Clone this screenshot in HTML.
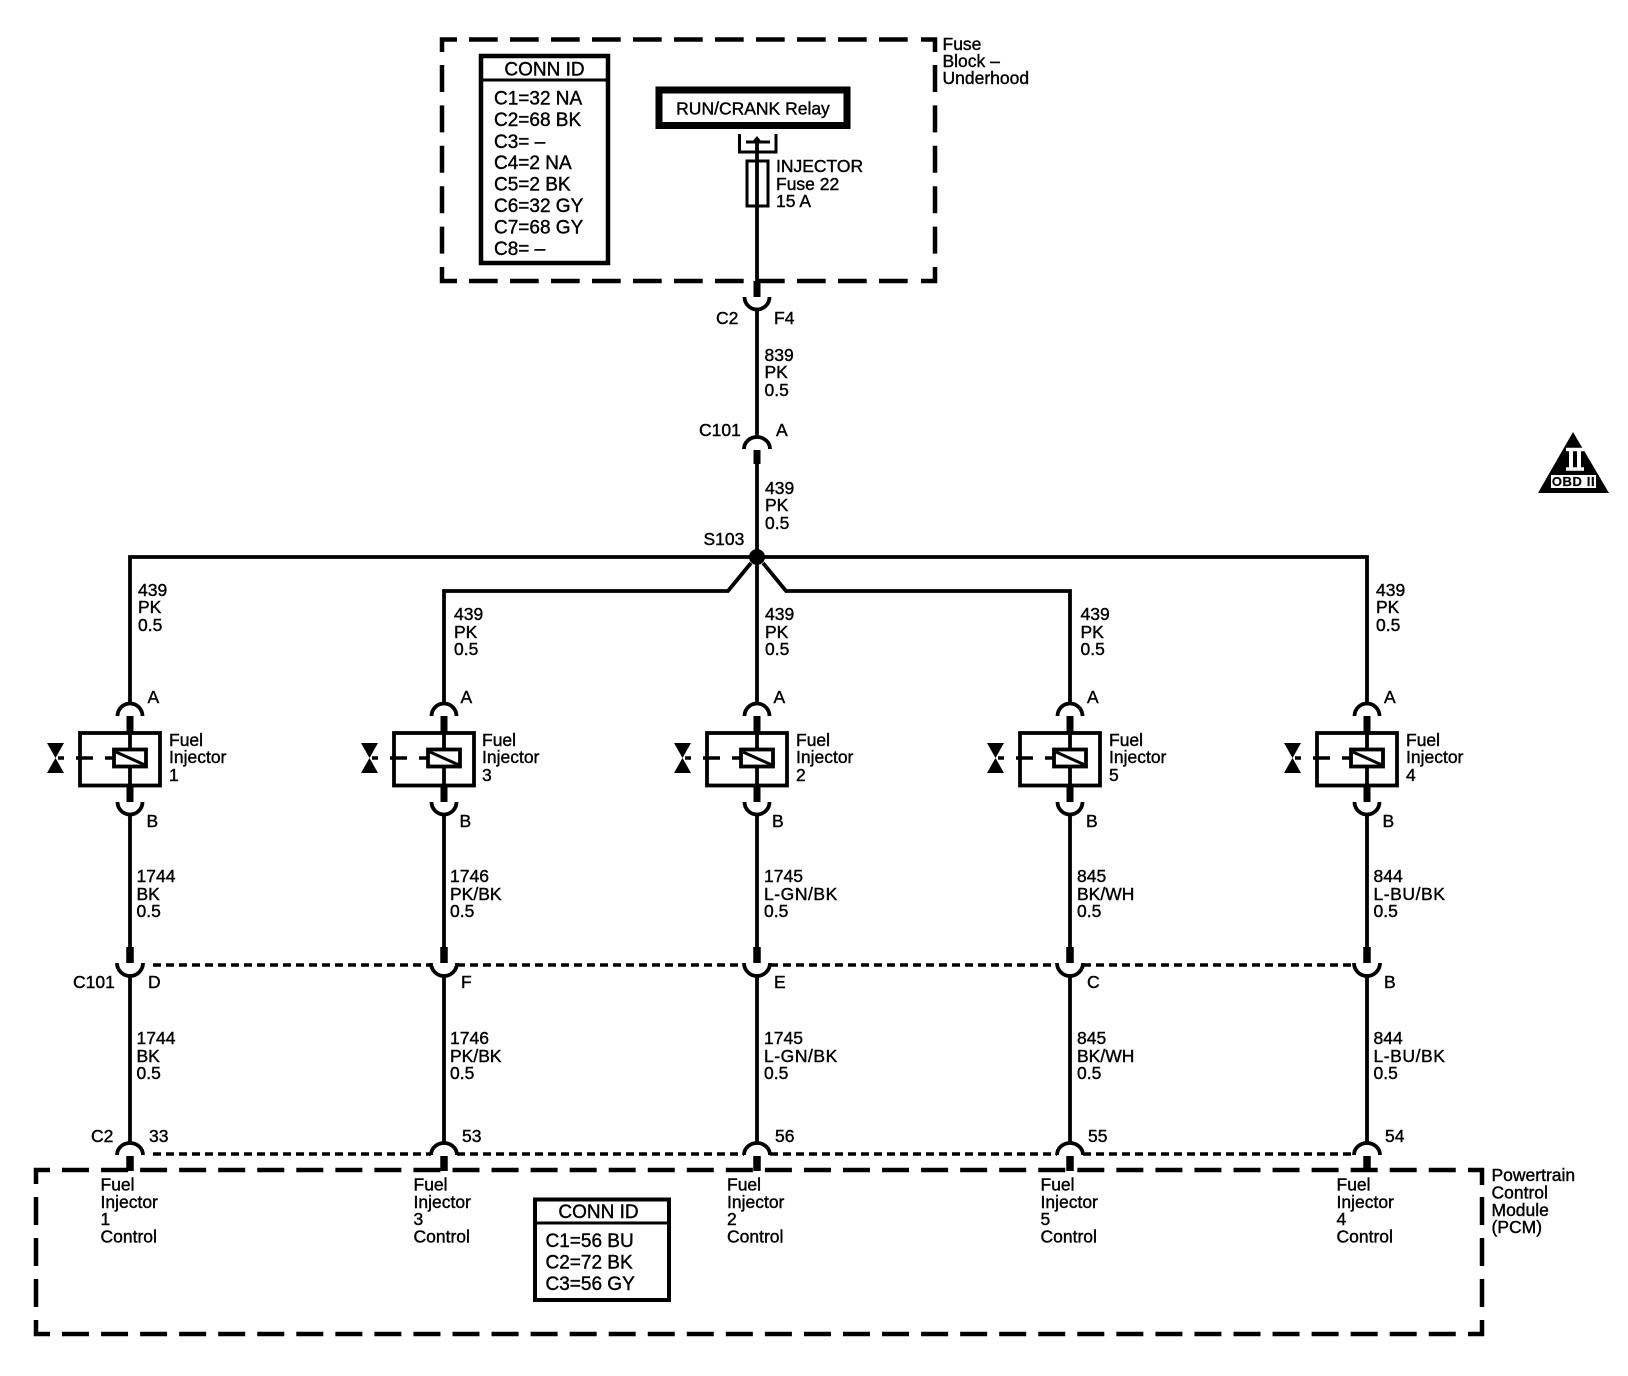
<!DOCTYPE html>
<html><head><meta charset="utf-8"><style>
html,body{margin:0;padding:0;background:#fff;width:1628px;height:1376px;overflow:hidden}
svg{display:block}
text{font-family:"Liberation Sans",sans-serif;font-size:17.5px;fill:#000;stroke:#000;stroke-width:.4}
.c{font-size:19px}
.w{letter-spacing:.55px}
</style></head><body>
<svg width="1628" height="1376" viewBox="0 0 1628 1376" xmlns="http://www.w3.org/2000/svg">
<defs>
<g id="inj" fill="none" stroke="#000">
<path d="M-12.5,716 A12.5,12.5 0 0 1 12.5,716" stroke-width="3.8"/>
<path d="M0,716 V733 M0,787 V802" stroke-width="7"/>
<rect x="-50" y="733" width="80" height="52.5" stroke-width="3.8"/>
<path d="M0,733 V787" stroke-width="3.8"/>
<rect x="-16" y="749.5" width="32" height="17" fill="#fff" stroke-width="3.8"/>
<path d="M-14,752 L15,765" stroke-width="3"/>
<path d="M-72,758 H-66 M-54,758 H-37 M-25,758 H-17" stroke-width="3.5"/>
<path d="M-83,743 H-66 L-74.5,758 L-66,773 H-83 L-74.5,758 Z" fill="#000" stroke="none"/>
<path d="M-12.5,802 A12.5,12.5 0 0 0 12.5,802" stroke-width="3.8"/>
<path d="M0,814 V948" stroke-width="3.8"/>
<path d="M0,947 V963" stroke-width="7.5"/>
<path d="M-13,963 A13,13 0 0 0 13,963" stroke-width="3.8"/>
<path d="M0,975 V1144" stroke-width="3.8"/>
<path d="M-13,1155 A13,12 0 0 1 13,1155" stroke-width="3.8"/>
<path d="M0,1156 V1171" stroke-width="7.5"/>
</g>
</defs>

<g fill="none" stroke="#000" stroke-width="4.5">
<!-- fuse block dashed -->
<path d="M442,52 V39.5 H457 M921,39.5 H935 V52 M442,267 V281 H457 M921,281 H935 V267"/>
<path d="M469,39.5 H919 M469,281 H919" stroke-dasharray="28.7 12.3"/>
<path d="M442,65 V255 M935,65 V255" stroke-dasharray="27 13.4"/>
<!-- PCM dashed -->
<path d="M36,1184 V1170 H50 M1468,1170 H1482 V1185 M36,1320 V1334 H50 M1468,1334 H1482 V1320"/>
<path d="M62,1170 H1460 M62,1334 H1460" stroke-dasharray="27 12.05"/>
<path d="M36,1197 V1308 M1482,1197 V1308" stroke-dasharray="28 13"/>
</g>

<!-- CONN ID 1 -->
<rect x="481" y="56" width="127" height="207" fill="none" stroke="#000" stroke-width="4.5"/>
<path d="M481,80 H608" stroke="#000" stroke-width="3"/>
<text class="c" x="544.5" y="75.5" text-anchor="middle">CONN ID</text>
<text class="c" x="494" y="104.5">C1=32 NA</text>
<text class="c" x="494" y="126">C2=68 BK</text>
<text class="c" x="494" y="148">C3= –</text>
<text class="c" x="494" y="169">C4=2 NA</text>
<text class="c" x="494" y="190.5">C5=2 BK</text>
<text class="c" x="494" y="212">C6=32 GY</text>
<text class="c" x="494" y="233.5">C7=68 GY</text>
<text class="c" x="494" y="255">C8= –</text>

<!-- Relay -->
<rect x="659" y="90" width="188" height="35.5" fill="none" stroke="#000" stroke-width="7"/>
<text x="753" y="114.5" text-anchor="middle">RUN/CRANK Relay</text>
<path d="M739.5,134 V152 H776 V134 M746,142 H770" fill="none" stroke="#000" stroke-width="3"/>
<path d="M752,142 L757,136 L762,142 Z" fill="#000"/>
<path d="M757,138 V282" stroke="#000" stroke-width="3.8"/>
<rect x="747" y="161" width="21" height="45" fill="none" stroke="#000" stroke-width="3"/>
<text x="776" y="172">INJECTOR</text>
<text x="776" y="190">Fuse 22</text>
<text x="776" y="207">15 A</text>
<text x="942.5" y="50">Fuse</text>
<text x="942.5" y="67">Block –</text>
<text x="942.5" y="84">Underhood</text>

<!-- trunk -->
<g fill="none" stroke="#000">
<path d="M757,281 V297" stroke-width="7"/>
<path d="M744.5,297 A12.5,12.5 0 0 0 769.5,297" stroke-width="3.8"/>
<path d="M757,309 V437" stroke-width="3.8"/>
<path d="M744,449 A13,12 0 0 1 770,449" stroke-width="3.8"/>
<path d="M757,450 V464" stroke-width="7"/>
<path d="M757,464 V704" stroke-width="3.8"/>
<path d="M130,704 V557 H1367 V704 M444,704 V591 H728 L751,563 M763,563 L786,591 H1070 V704" stroke-width="3.8" stroke-linejoin="miter"/>
</g>
<circle cx="757" cy="557" r="8"/>

<text x="716" y="324">C2</text><text x="774" y="324">F4</text>
<text x="764.5" y="361">839</text><text x="764.5" y="378">PK</text><text x="764.5" y="396">0.5</text>
<text x="699" y="436">C101</text><text x="776" y="436">A</text>
<text x="765" y="494">439</text><text x="765" y="511">PK</text><text x="765" y="529">0.5</text>
<text x="703.5" y="545">S103</text>

<!-- injectors -->
<use href="#inj" x="130"/><use href="#inj" x="444"/><use href="#inj" x="757"/><use href="#inj" x="1070"/><use href="#inj" x="1367"/>

<!-- dashed rows -->
<g fill="none" stroke="#000" stroke-width="3.5" stroke-dasharray="8 5">
<path d="M153,965 H431 M457,965 H744 M770,965 H1057 M1083,965 H1354"/>
<path d="M153,1154 H431 M457,1154 H744 M770,1154 H1057 M1083,1154 H1354"/>
</g>

<!-- column 1 -->
<text x="138" y="596">439</text><text x="138" y="613">PK</text><text x="138" y="631">0.5</text>
<text x="147.5" y="703">A</text>
<text x="169" y="746">Fuel</text><text x="169" y="763">Injector</text><text x="169" y="781">1</text>
<text x="146.5" y="827">B</text>
<text x="136.5" y="882">1744</text><text x="136.5" y="900">BK</text><text x="136.5" y="917">0.5</text>
<text x="73" y="988">C101</text><text x="148" y="988">D</text>
<text x="136.5" y="1044">1744</text><text x="136.5" y="1062">BK</text><text x="136.5" y="1079">0.5</text>
<text x="91" y="1142">C2</text><text x="149" y="1142">33</text>
<text x="100.5" y="1190.5">Fuel</text><text x="100.5" y="1208">Injector</text><text x="100.5" y="1225">1</text><text x="100.5" y="1242.5">Control</text>

<!-- column 3 -->
<text x="454" y="620">439</text><text x="454" y="638">PK</text><text x="454" y="655">0.5</text>
<text x="460.5" y="703">A</text>
<text x="482" y="746">Fuel</text><text x="482" y="763">Injector</text><text x="482" y="781">3</text>
<text x="459.5" y="827">B</text>
<text x="450" y="882">1746</text><text x="450" y="900">PK/BK</text><text x="450" y="917">0.5</text>
<text x="461" y="988">F</text>
<text x="450" y="1044">1746</text><text x="450" y="1062">PK/BK</text><text x="450" y="1079">0.5</text>
<text x="462" y="1142">53</text>
<text x="413.5" y="1190.5">Fuel</text><text x="413.5" y="1208">Injector</text><text x="413.5" y="1225">3</text><text x="413.5" y="1242.5">Control</text>

<!-- column 2 -->
<text x="765" y="620">439</text><text x="765" y="638">PK</text><text x="765" y="655">0.5</text>
<text x="773.5" y="703">A</text>
<text x="796" y="746">Fuel</text><text x="796" y="763">Injector</text><text x="796" y="781">2</text>
<text x="772" y="827">B</text>
<text x="764" y="882">1745</text><text class="w" x="764" y="900">L-GN/BK</text><text x="764" y="917">0.5</text>
<text x="774" y="988">E</text>
<text x="764" y="1044">1745</text><text class="w" x="764" y="1062">L-GN/BK</text><text x="764" y="1079">0.5</text>
<text x="775" y="1142">56</text>
<text x="727" y="1190.5">Fuel</text><text x="727" y="1208">Injector</text><text x="727" y="1225">2</text><text x="727" y="1242.5">Control</text>

<!-- column 5 -->
<text x="1080.5" y="620">439</text><text x="1080.5" y="638">PK</text><text x="1080.5" y="655">0.5</text>
<text x="1087" y="703">A</text>
<text x="1109" y="746">Fuel</text><text x="1109" y="763">Injector</text><text x="1109" y="781">5</text>
<text x="1086" y="827">B</text>
<text x="1077" y="882">845</text><text x="1077" y="900">BK/WH</text><text x="1077" y="917">0.5</text>
<text x="1087" y="988">C</text>
<text x="1077" y="1044">845</text><text x="1077" y="1062">BK/WH</text><text x="1077" y="1079">0.5</text>
<text x="1088" y="1142">55</text>
<text x="1040.5" y="1190.5">Fuel</text><text x="1040.5" y="1208">Injector</text><text x="1040.5" y="1225">5</text><text x="1040.5" y="1242.5">Control</text>

<!-- column 4 -->
<text x="1376" y="596">439</text><text x="1376" y="613">PK</text><text x="1376" y="631">0.5</text>
<text x="1384" y="703">A</text>
<text x="1406" y="746">Fuel</text><text x="1406" y="763">Injector</text><text x="1406" y="781">4</text>
<text x="1382.5" y="827">B</text>
<text x="1373.5" y="882">844</text><text class="w" x="1373.5" y="900">L-BU/BK</text><text x="1373.5" y="917">0.5</text>
<text x="1384" y="988">B</text>
<text x="1373.5" y="1044">844</text><text class="w" x="1373.5" y="1062">L-BU/BK</text><text x="1373.5" y="1079">0.5</text>
<text x="1385" y="1142">54</text>
<text x="1336.5" y="1190.5">Fuel</text><text x="1336.5" y="1208">Injector</text><text x="1336.5" y="1225">4</text><text x="1336.5" y="1242.5">Control</text>

<!-- PCM labels -->
<text x="1491.5" y="1181">Powertrain</text>
<text x="1491.5" y="1198.5">Control</text>
<text x="1491.5" y="1216">Module</text>
<text x="1491.5" y="1233">(PCM)</text>

<!-- CONN ID 2 -->
<rect x="535" y="1199.5" width="134" height="100.5" fill="none" stroke="#000" stroke-width="4"/>
<path d="M533,1223 H669" stroke="#000" stroke-width="3"/>
<text class="c" x="598.5" y="1218" text-anchor="middle">CONN ID</text>
<text class="c" x="545.5" y="1247">C1=56 BU</text>
<text class="c" x="545.5" y="1268.5">C2=72 BK</text>
<text class="c" x="545.5" y="1290">C3=56 GY</text>

<!-- OBD II -->
<path d="M1573,432 L1609,493 H1538 Z" fill="#000"/>
<path d="M1566,449.5 H1584 M1566,469 H1584" stroke="#fff" stroke-width="3.5"/>
<path d="M1571,450 V469 M1579,450 V469" stroke="#fff" stroke-width="4"/>
<rect x="1551" y="475" width="45" height="13" fill="#fff"/>
<text x="1573.5" y="486" text-anchor="middle" style="font-size:13px;font-weight:bold;letter-spacing:.6px;stroke-width:.2">OBD II</text>
</svg>
</body></html>
